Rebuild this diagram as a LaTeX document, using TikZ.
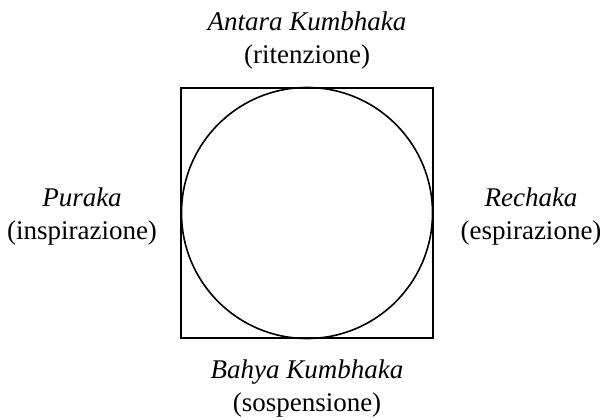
\documentclass[tikz,border=0pt]{standalone}
\usepackage{fontspec}
\setmainfont{Liberation Serif}
\begin{document}
\begin{tikzpicture}[x=1pt,y=-1pt,
  lbl/.style={anchor=base,font=\fontsize{27}{33}\selectfont,inner sep=0pt},
  ilbl/.style={lbl,font=\fontsize{27}{33}\selectfont\itshape},
  outl/.style={draw,line width=1.6pt}]
\useasboundingbox (0,0) rectangle (603,420);
\node[outl,minimum width=252,minimum height=250,inner sep=0pt] (sq) at (307,213) {};
\node[outl,circle,minimum size=251,inner sep=0pt] (ci) at (307,213) {};
\node[ilbl] (topa) at (307,31) {Antara Kumbhaka};
\node[lbl] (topb) at (307,64) {(ritenzione)};
\node[ilbl] (lefta) at (82,206) {Puraka};
\node[lbl] (leftb) at (82,239) {(inspirazione)};
\node[ilbl] (righta) at (531,206) {Rechaka};
\node[lbl] (rightb) at (531,239) {(espirazione)};
\node[ilbl] (bota) at (307,378) {Bahya Kumbhaka};
\node[lbl] (botb) at (307,411) {(sospensione)};
\end{tikzpicture}
\end{document}
